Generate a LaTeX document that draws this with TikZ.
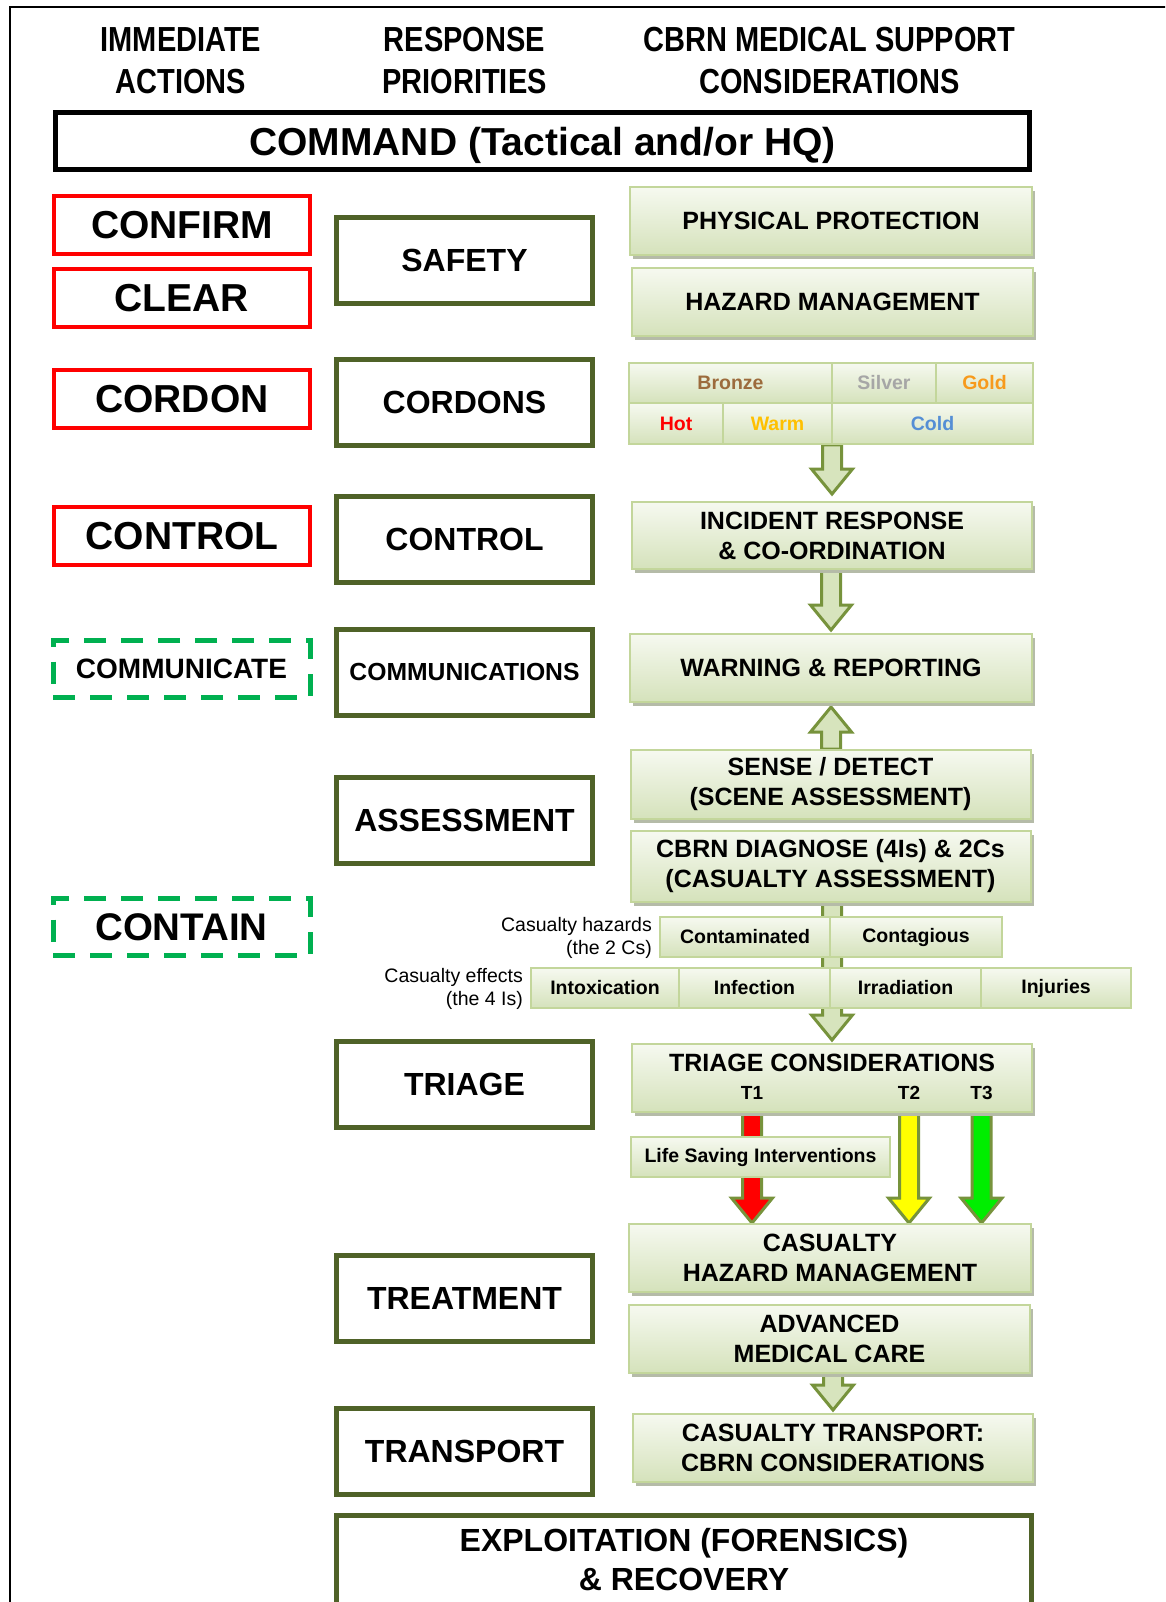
\documentclass[tikz,border=0pt]{standalone}
\usepackage{fontspec}
\usepackage{graphicx}
\setmainfont{Liberation Sans}
\usetikzlibrary{calc}

\definecolor{cOlive}{HTML}{4F6228}
\definecolor{cRed}{HTML}{FF0000}
\definecolor{cDash}{HTML}{00B050}
\definecolor{cArrowLine}{HTML}{77933C}
\definecolor{cArrowFill}{HTML}{D7E4BD}
\definecolor{cBoxTop}{HTML}{F6F9F0}
\definecolor{cBoxBot}{HTML}{D5E2BB}
\definecolor{cBoxLine}{HTML}{C3D69B}
\definecolor{cShadow}{HTML}{B5BBA8}
\definecolor{cBronze}{HTML}{9C6B3C}
\definecolor{cSilver}{HTML}{A6A6A6}
\definecolor{cGold}{HTML}{F79A1C}
\definecolor{cWarm}{HTML}{FFC000}
\definecolor{cCold}{HTML}{558ED5}
\definecolor{cYellow}{HTML}{FFFF00}
\definecolor{cGreenT}{HTML}{00EE00}

\pgfdeclarelayer{paper}
\pgfdeclarelayer{bg}
\pgfsetlayers{paper,bg,main}

% header lines are set slightly taller than the font
\newcommand{\hl}[1]{\scalebox{1}[1.2]{#1}}

% block arrows between two anchors: shaft starts at #2, tip at #3
\newcommand{\blkdown}[3]{\draw[blkarrow,fill=#1] let \p1=(#2), \p2=(#3) in
  (\x2-9.5pt,\y1) -- (\x2-9.5pt,\y2+25pt) -- (\x2-20.5pt,\y2+25pt) -- (\x2,\y2)
  -- (\x2+20.5pt,\y2+25pt) -- (\x2+9.5pt,\y2+25pt) -- (\x2+9.5pt,\y1) -- cycle;}
\newcommand{\blkup}[3]{\draw[blkarrow,fill=#1] let \p1=(#2), \p2=(#3) in
  (\x2-9.5pt,\y1) -- (\x2-9.5pt,\y2-25pt) -- (\x2-20.5pt,\y2-25pt) -- (\x2,\y2)
  -- (\x2+20.5pt,\y2-25pt) -- (\x2+9.5pt,\y2-25pt) -- (\x2+9.5pt,\y1) -- cycle;}

\tikzset{
  hdr/.style={font=\fontsize{29}{42.5}\selectfont\bfseries, align=center, inner sep=0pt},
  cmd/.style={draw=black, line width=5pt, minimum width=974pt, minimum height=57pt,
    inner sep=0pt, text depth=0pt, font=\fontsize{39}{46}\selectfont\bfseries},
  redbox/.style={draw=cRed, line width=4pt, minimum width=256pt, minimum height=58pt,
    inner sep=0pt, font=\fontsize{39}{46}\selectfont\bfseries},
  dashbox/.style={draw=cDash, line width=5pt, dash pattern=on 22pt off 15pt,
    minimum width=257pt, minimum height=57pt, inner sep=0pt},
  prio/.style={draw=cOlive, line width=5pt, fill=white, minimum width=256pt, minimum height=86pt,
    inner sep=0pt, font=\fontsize{32}{38}\selectfont\bfseries},
  priotxt/.style={inner sep=0pt, align=center, font=\fontsize{32}{39}\selectfont\bfseries},
  gbox/.style={top color=cBoxTop, bottom color=cBoxBot, draw=cBoxLine, line width=2pt,
    inner sep=0pt, align=center, font=\fontsize{25}{30}\selectfont\bfseries,
    preaction={fill=cShadow, transform canvas={xshift=3pt, yshift=-4pt}}},
  gcell/.style={top color=cBoxTop, bottom color=cBoxBot, draw=cBoxLine, line width=1.5pt,
    inner sep=0pt, font=\fontsize{19.5}{23}\selectfont\bfseries},
  side/.style={inner sep=0pt, align=right, font=\fontsize{19.5}{23}\selectfont},
  tlab/.style={inner sep=0pt, font=\fontsize{19}{22}\selectfont\bfseries},
  blkarrow/.style={draw=cArrowLine, line width=3pt, line join=miter, fill=cArrowFill},
}

\begin{document}
\begin{tikzpicture}[x=1pt,y=-1pt]
\useasboundingbox (0,0) rectangle (1165,1602);
\clip (0,0) rectangle (1165,1602);
\begin{pgfonlayer}{paper}
\fill[white] (0,0) rectangle (1165,1602);
\end{pgfonlayer}

% outer frame (top and left edges)
\draw[line width=2pt] (9.5,1610) -- (9.5,7.5) -- (1170,7.5);

% column headers
\node[hdr] (hImmediate) at (181,60.6) {\hl{IMMEDIATE}\\\hl{ACTIONS}};
\node[hdr] (hResponse) at (464.5,60.6) {\hl{RESPONSE}\\\hl{PRIORITIES}};
\node[hdr] (hSupport) at (829.5,60.6) {\hl{CBRN MEDICAL SUPPORT}\\\hl{CONSIDERATIONS}};

% command bar
\node[cmd] (command) at (542.5,141) {COMMAND (Tactical and/or HQ)};

% immediate actions
\node[redbox] (confirm) at (182,225.5) {CONFIRM};
\node[redbox] (clear) at (182,298) {CLEAR};
\node[redbox] (cordon) at (182,399) {CORDON};
\node[redbox] (control) at (182,536) {CONTROL};
\node[dashbox, font=\fontsize{28}{34}\selectfont\bfseries] (communicate) at (181.5,669) {COMMUNICATE};
\node[dashbox, font=\fontsize{38.5}{46}\selectfont\bfseries] (contain) at (181.5,927) {CONTAIN};

% response priorities
\node[prio] (safety) at (464.5,260.5) {SAFETY};
\node[prio] (cordons) at (464.5,402.5) {CORDONS};
\node[prio] (controlp) at (464.5,539.5) {CONTROL};
\node[prio, font=\fontsize{24.7}{30}\selectfont\bfseries] (comms) at (464.5,672) {COMMUNICATIONS};
\node[prio] (assess) at (464.5,820) {ASSESSMENT};
\node[prio] (triage) at (464.5,1084.5) {TRIAGE};
\node[prio] (treat) at (464.5,1298.5) {TREATMENT};
\node[prio] (transp) at (464.5,1451.5) {TRANSPORT};
\node[prio, minimum width=695pt, minimum height=130pt] (exploit) at (684,1580.5) {};
\node[priotxt] (exploitText) at (684,1559.5) {EXPLOITATION (FORENSICS)\\\& RECOVERY};

% medical support considerations
\node[gbox, minimum width=402pt, minimum height=68pt] (phys) at (831,221) {PHYSICAL PROTECTION};
\node[gbox, minimum width=401pt, minimum height=68pt] (hazm) at (832.5,302) {HAZARD MANAGEMENT};

% cordon table
\node[gcell, minimum width=203pt, minimum height=40pt, text=cBronze] (bronze) at (730.5,383) {Bronze};
\node[gcell, minimum width=104pt, minimum height=40pt, text=cSilver] (silver) at (884,383) {Silver};
\node[gcell, minimum width=97pt, minimum height=40pt, text=cGold] (gold) at (984.5,383) {Gold};
\node[gcell, minimum width=94pt, minimum height=41pt, text=cRed] (hot) at (676,423.5) {Hot};
\node[gcell, minimum width=109pt, minimum height=41pt, text=cWarm] (warm) at (777.5,423.5) {Warm};
\node[gcell, minimum width=201pt, minimum height=41pt, text=cCold] (cold) at (932.5,423.5) {Cold};

\node[gbox, minimum width=400pt, minimum height=67pt] (inc) at (832,535.5) {INCIDENT RESPONSE\\\& CO-ORDINATION};
\node[gbox, minimum width=402pt, minimum height=68pt] (warn) at (831,668) {WARNING \& REPORTING};
\node[gbox, minimum width=400pt, minimum height=69pt] (sense) at (830.5,784.5) {SENSE / DETECT\\(SCENE ASSESSMENT)};
\node[gbox, minimum width=400pt, minimum height=71pt] (diag) at (830.5,866.5) {CBRN DIAGNOSE (4Is) \& 2Cs\\(CASUALTY ASSESSMENT)};

% casualty hazards and effects
\node[side, anchor=east] (hazLabel) at (652,937.5) {Casualty hazards\\(the 2 Cs)};
\node[gcell, minimum width=170pt, minimum height=40pt] (contam) at (745,937) {Contaminated};
\node[gcell, minimum width=172pt, minimum height=40pt] (contag) at (916,937) {Contagious};
\node[side, anchor=east] (effLabel) at (523,989) {Casualty effects\\(the 4 Is)};
\node[gcell, minimum width=148pt, minimum height=40pt] (intox) at (605,988) {Intoxication};
\node[gcell, minimum width=151pt, minimum height=40pt] (infect) at (754.5,988) {Infection};
\node[gcell, minimum width=151pt, minimum height=40pt] (irrad) at (905.5,988) {Irradiation};
\node[gcell, minimum width=150pt, minimum height=40pt] (injur) at (1056,988) {Injuries};

% triage
\node[gbox, minimum width=400pt, minimum height=68pt] (tric) at (832,1078) {};
\node[inner sep=0pt, font=\fontsize{25}{30}\selectfont\bfseries] (tricText) at (832,1063) {TRIAGE CONSIDERATIONS};
\node[tlab] (t1) at (752,1093) {T1};
\node[tlab] (t2) at (909,1093) {T2};
\node[tlab] (t3) at (981.5,1093) {T3};
\node[gcell, minimum width=259pt, minimum height=40pt] (lsi) at (760.5,1157) {Life Saving Interventions};

\node[gbox, minimum width=402pt, minimum height=68pt] (chm) at (830,1258) {CASUALTY\\HAZARD MANAGEMENT};
\node[gbox, minimum width=401pt, minimum height=68pt] (adv) at (829.5,1339) {ADVANCED\\MEDICAL CARE};
\node[gbox, minimum width=400pt, minimum height=68pt] (ctr) at (833,1448) {CASUALTY TRANSPORT:\\CBRN CONSIDERATIONS};

% flow arrows, behind the boxes
\begin{pgfonlayer}{bg}
\blkdown{cArrowFill}{cold.south}{[yshift=7pt]inc.north}
\blkdown{cArrowFill}{inc.south}{[yshift=3pt]warn.north}
\blkup{cArrowFill}{sense.north}{[yshift=-4pt]warn.south}
\blkdown{cArrowFill}{diag.south}{[yshift=3pt]tric.north}
\blkdown{cRed}{t1 |- tric.south}{t1 |- chm.north}
\blkdown{cYellow}{t2 |- tric.south}{t2 |- chm.north}
\blkdown{cGreenT}{t3 |- tric.south}{t3 |- chm.north}
\blkdown{cArrowFill}{adv.south}{[yshift=3pt]ctr.north}
\end{pgfonlayer}
\end{tikzpicture}
\end{document}
